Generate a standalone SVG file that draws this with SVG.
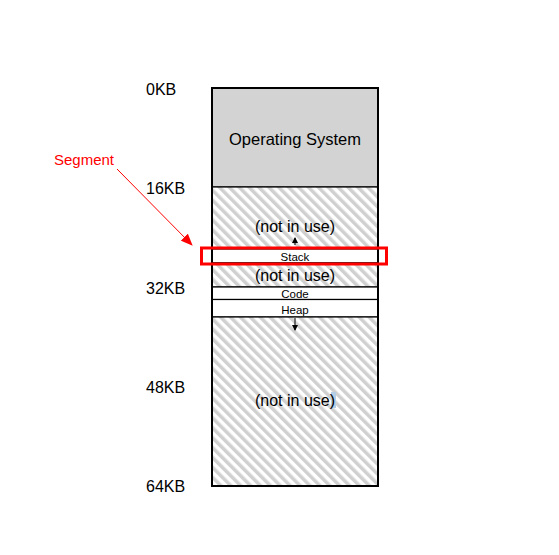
<svg xmlns="http://www.w3.org/2000/svg" width="559" height="555" viewBox="0 0 559 555">
<style>
text{font-family:"Liberation Sans",Arial,sans-serif;fill:#000}
.kb{font-size:16px}
.niu{font-size:16px;text-anchor:middle}
.small{font-size:11.5px;text-anchor:middle}
.blk{stroke:#000;stroke-width:1.2}
</style>
<defs>
<pattern id="hatch" width="7" height="7" patternUnits="userSpaceOnUse" patternTransform="rotate(-45)">
<rect width="7" height="7" fill="#fff"/>
<rect width="3.5" height="7" fill="#d0d0d0"/>
</pattern>
<marker id="ab" markerWidth="6" markerHeight="6" refX="5" refY="3" orient="auto" markerUnits="userSpaceOnUse">
<path d="M0,0 L6,3 L0,6 z" fill="#000"/>
</marker>
<marker id="ar" markerWidth="12" markerHeight="10" refX="11" refY="5" orient="auto" markerUnits="userSpaceOnUse">
<path d="M0,0 L12,5 L0,10 z" fill="#f00"/>
</marker>
</defs>
<rect width="559" height="555" fill="#fff"/>
<g id="labels">
<text class="kb" x="146" y="95">0KB</text>
<text class="kb" x="146" y="194">16KB</text>
<text class="kb" x="146" y="294">32KB</text>
<text class="kb" x="146" y="393">48KB</text>
<text class="kb" x="146" y="492">64KB</text>
</g>
<g id="os">
<rect class="blk" x="212" y="88" width="166" height="99" fill="#d3d3d3" stroke-width="2"/>
<text x="295" y="145" font-size="16.5" text-anchor="middle">Operating System</text>
</g>
<g id="free1">
<rect class="blk" x="212" y="187" width="166" height="62" fill="url(#hatch)"/>
<text class="niu" x="295" y="232">(not in use)</text>
</g>
<g id="stack">
<rect class="blk" x="212" y="249" width="166" height="14" fill="#fff"/>
<text class="small" x="295" y="260.5">Stack</text>
</g>
<g id="free2">
<rect class="blk" x="212" y="263" width="166" height="24" fill="url(#hatch)"/>
<text class="niu" x="295" y="281">(not in use)</text>
</g>
<g id="code">
<rect class="blk" x="212" y="287" width="166" height="12.5" fill="#fff"/>
<text class="small" x="295" y="298">Code</text>
</g>
<g id="heap">
<rect class="blk" x="212" y="299.5" width="166" height="17.5" fill="#fff"/>
<text class="small" x="295" y="313.5">Heap</text>
</g>
<g id="free3">
<rect class="blk" x="212" y="317" width="166" height="169" fill="url(#hatch)" stroke-width="2"/>
<rect x="331" y="392" width="5" height="16" fill="#b4cfe6"/>
<text class="niu" x="295" y="406">(not in use)</text>
</g>
<g id="outline">
<rect x="212" y="88" width="166" height="398" fill="none" stroke="#000" stroke-width="2"/>
</g>
<g id="segment">
<rect x="201.5" y="248" width="185" height="16" fill="none" stroke="#f00" stroke-width="3"/>
<text x="54" y="165" font-size="15" style="fill:#f00">Segment</text>
</g>
<g id="connectors">
<line x1="295" y1="245" x2="295" y2="238" stroke="#000" stroke-width="1" marker-end="url(#ab)"/>
<line x1="295" y1="318" x2="295" y2="330" stroke="#000" stroke-width="1" marker-end="url(#ab)"/>
<line x1="117" y1="169" x2="192" y2="245" stroke="#f00" stroke-width="1" marker-end="url(#ar)"/>
</g>
</svg>
